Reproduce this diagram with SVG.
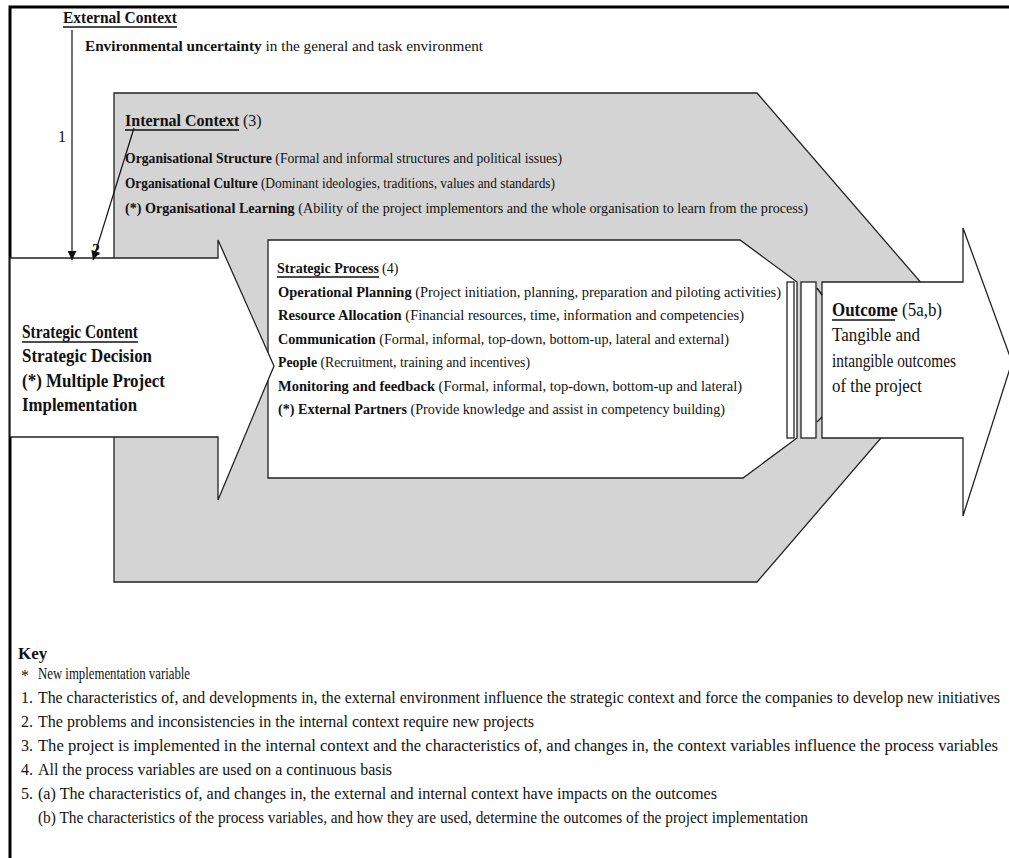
<svg xmlns="http://www.w3.org/2000/svg" width="1009" height="858" viewBox="0 0 1009 858">
<style>
.t{font-family:"Liberation Serif","Times New Roman",serif;fill:#111}
.b{font-weight:bold}
.f14{font-size:14px}.f15{font-size:15px}.f16{font-size:16px}.f17{font-size:17px}.f18{font-size:18px}
.sh{stroke:#222;stroke-width:1.3;stroke-linejoin:miter}
.ul{stroke:#111;stroke-width:1.3}
.con{stroke:#111;stroke-width:1.2;fill:none}
</style>
<defs>
<marker id="ah" viewBox="0 0 10 10" refX="10" refY="5" markerWidth="11" markerHeight="9" markerUnits="userSpaceOnUse" orient="auto">
<path d="M0,0 L10,5 L0,10 z" fill="#111"/>
</marker>
</defs>
<rect width="1009" height="858" fill="#fff"/>
<g id="frame"><path d="M10,858 V7 H1009" fill="none" stroke="#000" stroke-width="3"/></g>

<g id="external-context">
<text class="t b f16" x="63" y="23" textLength="114" lengthAdjust="spacingAndGlyphs">External Context</text>
<line class="ul" x1="63" y1="27" x2="177" y2="27"/>
<text class="t f15" x="85" y="51" textLength="398" lengthAdjust="spacingAndGlyphs"><tspan class="b">Environmental uncertainty</tspan> in the general and task environment</text>
</g>

<g id="internal-context">
<polygon class="sh" points="114,93 757,93 968,337 757,582 114,582" fill="#d4d4d4"/>
<text class="t b f16" x="125" y="126">Internal Context</text>
<text class="t f16" x="243" y="126">(3)</text>
<line class="ul" x1="125" y1="130" x2="239" y2="130"/>
<text class="t f14" x="125" y="163" textLength="437" lengthAdjust="spacingAndGlyphs"><tspan class="b">Organisational Structure</tspan> (Formal and informal structures and political issues)</text>
<text class="t f14" x="125" y="188" textLength="430" lengthAdjust="spacingAndGlyphs"><tspan class="b">Organisational Culture</tspan> (Dominant ideologies, traditions, values and standards)</text>
<text class="t f14" x="125" y="213" textLength="683" lengthAdjust="spacingAndGlyphs"><tspan class="b">(*) Organisational Learning</tspan> (Ability of the project implementors and the whole organisation to learn from the process)</text>
</g>

<g id="outcome">
<polygon class="sh" points="822,282 963,282 963,228 1012,362 963,516 963,438 822,438" fill="#fff"/>
<text class="t f18" x="832" y="316" textLength="110" lengthAdjust="spacingAndGlyphs"><tspan class="b">Outcome</tspan> (5a,b)</text>
<line class="ul" x1="832" y1="320" x2="895" y2="320"/>
<text class="t f18" x="832" y="341" textLength="88" lengthAdjust="spacingAndGlyphs">Tangible and</text>
<text class="t f18" x="832" y="367" textLength="124" lengthAdjust="spacingAndGlyphs">intangible outcomes</text>
<text class="t f18" x="832" y="392" textLength="90" lengthAdjust="spacingAndGlyphs">of the project</text>
</g>

<g id="strategic-process">
<polygon class="sh" points="268,240 740,240 797,282 797,438 743,478 268,478" fill="#fff"/>
<rect class="sh" x="787" y="282" width="7" height="156" fill="#fff"/>
<rect class="sh" x="801" y="282" width="15" height="156" fill="#fff"/>
<line class="ul" x1="817" y1="288" x2="822" y2="295"/>
<line class="ul" x1="817" y1="422" x2="822" y2="417"/>
<text class="t b f14" x="277" y="273">Strategic Process</text>
<text class="t f14" x="382" y="273">(4)</text>
<line class="ul" x1="277" y1="277" x2="379" y2="277"/>
<text class="t f14" x="278" y="297" textLength="503" lengthAdjust="spacingAndGlyphs"><tspan class="b">Operational Planning</tspan> (Project initiation, planning, preparation and piloting activities)</text>
<text class="t f14" x="278" y="320" textLength="466" lengthAdjust="spacingAndGlyphs"><tspan class="b">Resource Allocation</tspan> (Financial resources, time, information and competencies)</text>
<text class="t f14" x="278" y="344" textLength="451" lengthAdjust="spacingAndGlyphs"><tspan class="b">Communication</tspan> (Formal, informal, top-down, bottom-up, lateral and external)</text>
<text class="t f14" x="278" y="367" textLength="252" lengthAdjust="spacingAndGlyphs"><tspan class="b">People</tspan> (Recruitment, training and incentives)</text>
<text class="t f14" x="278" y="391" textLength="464" lengthAdjust="spacingAndGlyphs"><tspan class="b">Monitoring and feedback</tspan> (Formal, informal, top-down, bottom-up and lateral)</text>
<text class="t f14" x="278" y="414" textLength="447" lengthAdjust="spacingAndGlyphs"><tspan class="b">(*) External Partners</tspan> (Provide knowledge and assist in competency building)</text>
</g>

<g id="strategic-content">
<polygon class="sh" points="10,258 218,258 218,240 274,366 218,500 218,437 10,437" fill="#fff"/>
<text class="t b f18" x="22" y="338" textLength="116" lengthAdjust="spacingAndGlyphs">Strategic Content</text>
<line class="ul" x1="22" y1="342" x2="138" y2="342"/>
<text class="t b f18" x="22" y="362" textLength="130" lengthAdjust="spacingAndGlyphs">Strategic Decision</text>
<text class="t b f18" x="22" y="387" textLength="143" lengthAdjust="spacingAndGlyphs">(*) Multiple Project</text>
<text class="t b f18" x="22" y="411" textLength="115" lengthAdjust="spacingAndGlyphs">Implementation</text>
</g>

<g id="connectors">
<line class="con" x1="72" y1="30" x2="72" y2="260" marker-end="url(#ah)"/>
<line class="con" x1="134" y1="128" x2="93" y2="260" marker-end="url(#ah)"/>
<text class="t f16" x="58" y="142">1</text>
<text class="t b f16" x="92" y="255">2</text>
</g>

<g id="key">
<text class="t b f17" x="18" y="659">Key</text>
<text class="t f16" x="21" y="681">*</text>
<text class="t f16" x="38" y="679" textLength="152" lengthAdjust="spacingAndGlyphs">New implementation variable</text>
<text class="t f16" x="21" y="703">1.</text>
<text class="t f16" x="38" y="703" textLength="962" lengthAdjust="spacingAndGlyphs">The characteristics of, and developments in, the external environment influence the strategic context and force the companies to develop new initiatives</text>
<text class="t f16" x="21" y="727">2.</text>
<text class="t f16" x="38" y="727" textLength="496" lengthAdjust="spacingAndGlyphs">The problems and inconsistencies in the internal context require new projects</text>
<text class="t f16" x="21" y="751">3.</text>
<text class="t f16" x="38" y="751" textLength="960" lengthAdjust="spacingAndGlyphs">The project is implemented in the internal context and the characteristics of, and changes in, the context variables influence the process variables</text>
<text class="t f16" x="21" y="775">4.</text>
<text class="t f16" x="38" y="775" textLength="354" lengthAdjust="spacingAndGlyphs">All the process variables are used on a continuous basis</text>
<text class="t f16" x="21" y="799">5.</text>
<text class="t f16" x="38" y="799" textLength="679" lengthAdjust="spacingAndGlyphs">(a) The characteristics of, and changes in, the external and internal context have impacts on the outcomes</text>
<text class="t f16" x="38" y="823" textLength="770" lengthAdjust="spacingAndGlyphs">(b) The characteristics of the process variables, and how they are used, determine the outcomes of the project implementation</text>
</g>
</svg>
